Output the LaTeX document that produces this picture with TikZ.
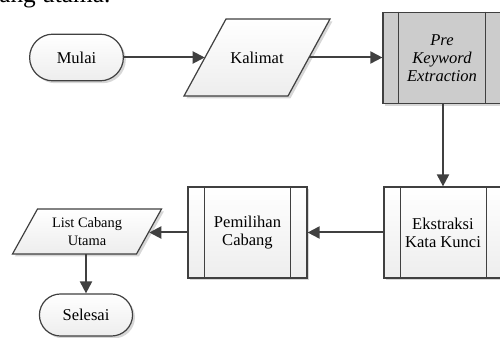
\documentclass[tikz,border=0pt]{standalone}
\usepackage{fontspec}
\setmainfont{Liberation Serif}
\usetikzlibrary{shapes.misc,arrows.meta,calc,shadows}
\begin{document}
\begin{tikzpicture}[x=0.75pt,y=-0.75pt,
  outline/.style={draw=black!75,line width=0.9pt},
  grad/.style={top color=white,bottom color=gray!14},
  shd/.style={drop shadow={shadow xshift=1.8pt,shadow yshift=-1.8pt,fill=gray!70,opacity=0.45}},
  txt/.style={font=\fontsize{12.4}{13.5}\selectfont,align=center},
  term/.style={rounded rectangle,outline,grad,shd,txt,minimum width=77pt,minimum height=35pt},
  proc/.style={rectangle,outline,shd,txt,inner sep=0pt,minimum width=88.5pt,minimum height=68.5pt},
  iobox/.style={rectangle,txt,inner sep=0pt},
  flow/.style={draw=black!75,line width=1.5pt,-{Triangle[length=9pt,width=9pt]}},
]
\useasboundingbox (0,0) rectangle (500,338);

% caption line of the surrounding text
\node[anchor=base west,inner sep=0pt,font=\fontsize{19}{19}\selectfont] (cap) at (-1,3) {ang utama.};

% start terminal
\node[term] (mulai) at (76.5,57.5) {Mulai};

% input: Kalimat
\path[outline,grad,shd] (226,19) -- (330,19) -- (288,96) -- (184,96) -- cycle;
\node[iobox,minimum width=78pt,minimum height=57.75pt] (kal) at (257,57.5) {Kalimat};

% predefined process: Pre Keyword Extraction
\node[proc,fill=gray!40] (pre) at (442,58) {\itshape Pre\\\itshape Keyword\\\itshape Extraction};
\draw[outline] ($(pre.north west)+(16,0)$) -- ($(pre.south west)+(16,0)$);
\draw[outline] ($(pre.north east)+(-16,0)$) -- ($(pre.south east)+(-16,0)$);

% predefined process: Ekstraksi Kata Kunci
\node[proc,grad,minimum height=68.25pt] (eks) at (443,232.5) {Ekstraksi\\Kata Kunci};
\draw[outline] ($(eks.north west)+(17,0)$) -- ($(eks.south west)+(17,0)$);
\draw[outline] ($(eks.north east)+(-16,0)$) -- ($(eks.south east)+(-16,0)$);

% predefined process: Pemilihan Cabang
\node[proc,grad,minimum width=89.25pt,minimum height=68.25pt] (pem) at (247.5,232.5) {Pemilihan\\Cabang};
\draw[outline] ($(pem.north west)+(17,0)$) -- ($(pem.south west)+(17,0)$);
\draw[outline] ($(pem.north east)+(-17,0)$) -- ($(pem.south east)+(-17,0)$);

% output: List Cabang Utama
\path[outline,grad,shd] (37.5,209) -- (161.5,209) -- (136.5,254) -- (12.5,254) -- cycle;
\node[iobox,minimum width=93pt,minimum height=33.75pt,font=\fontsize{10.8}{13.5}\selectfont] (list) at (87,231.5) {List Cabang\\Utama};

% end terminal
\node[term,minimum height=31.5pt,minimum width=76.5pt] (sel) at (86,315) {Selesai};

% connectors
\draw[flow] (mulai.east) -- (kal.west);
\draw[flow] (kal.east) -- (pre.west |- kal.east);
\draw[flow] (pre.south -| eks.north) -- (eks.north);
\draw[flow] (eks.west |- pem.east) -- (pem.east);
\draw[flow] (pem.west) -- (list.east |- pem.west);
\draw[flow] (list.south -| sel.north) -- (sel.north);
\end{tikzpicture}
\end{document}
